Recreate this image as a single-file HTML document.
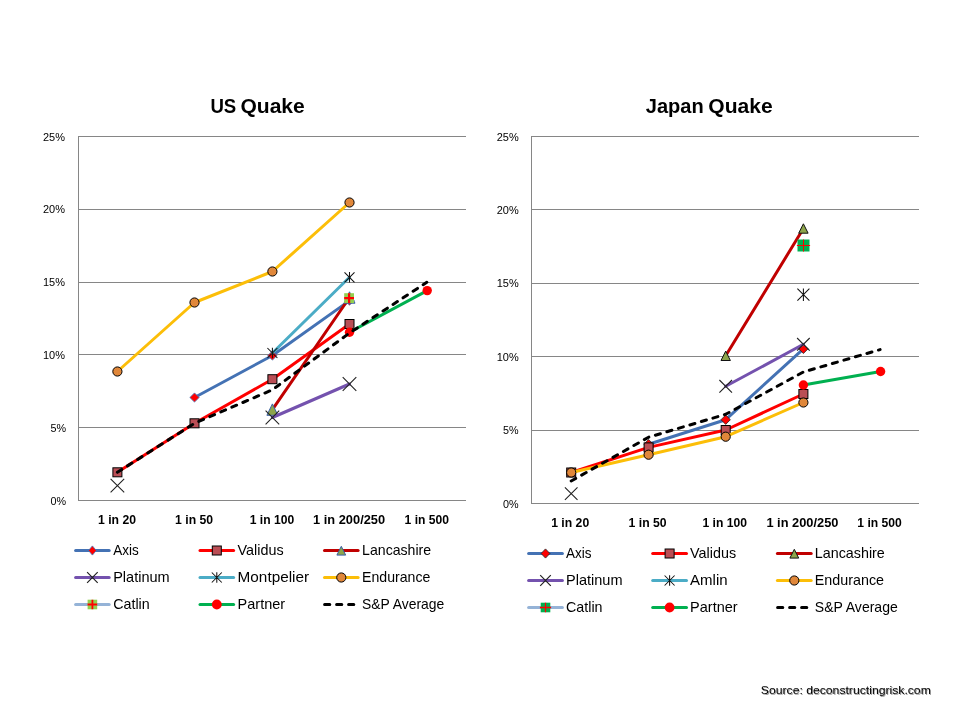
<!DOCTYPE html>
<html lang="en">
<head>
<meta charset="utf-8">
<title>US Quake / Japan Quake</title>
<style>
html,body{margin:0;padding:0;background:#fff;}
body{width:960px;height:720px;overflow:hidden;}
svg{display:block;font-family:"Liberation Sans", sans-serif;}
</style>
</head>
<body>
<svg width="960" height="720" viewBox="0 0 960 720">
<rect width="960" height="720" fill="#fff"/>
<rect x="78" y="136" width="388" height="1" fill="#868686"/>
<rect x="78" y="209" width="388" height="1" fill="#868686"/>
<rect x="78" y="282" width="388" height="1" fill="#868686"/>
<rect x="78" y="354" width="388" height="1" fill="#868686"/>
<rect x="78" y="427" width="388" height="1" fill="#868686"/>
<rect x="78" y="500" width="388" height="1" fill="#868686"/>
<rect x="78" y="136" width="1" height="365" fill="#868686"/>
<text y="112.5" font-size="21" font-weight="bold" fill="#000"><tspan x="210.4" textLength="31" lengthAdjust="spacingAndGlyphs">US </tspan><tspan x="240.4" textLength="64.4" lengthAdjust="spacingAndGlyphs">Quake</tspan></text>
<text x="43" y="141" font-size="11.5" font-weight="normal" text-anchor="start" fill="#000" textLength="22" lengthAdjust="spacingAndGlyphs">25%</text>
<text x="43" y="212.8" font-size="11.5" font-weight="normal" text-anchor="start" fill="#000" textLength="22" lengthAdjust="spacingAndGlyphs">20%</text>
<text x="43" y="285.7" font-size="11.5" font-weight="normal" text-anchor="start" fill="#000" textLength="22" lengthAdjust="spacingAndGlyphs">15%</text>
<text x="43" y="358.5" font-size="11.5" font-weight="normal" text-anchor="start" fill="#000" textLength="22" lengthAdjust="spacingAndGlyphs">10%</text>
<text x="50.6" y="431.7" font-size="11.5" font-weight="normal" text-anchor="start" fill="#000" textLength="15.6" lengthAdjust="spacingAndGlyphs">5%</text>
<text x="50.6" y="504.6" font-size="11.5" font-weight="normal" text-anchor="start" fill="#000" textLength="15.6" lengthAdjust="spacingAndGlyphs">0%</text>
<text x="98" y="524.3" font-size="12.6" font-weight="bold" text-anchor="start" fill="#000" textLength="38" lengthAdjust="spacingAndGlyphs">1 in 20</text>
<text x="175.1" y="524.3" font-size="12.6" font-weight="bold" text-anchor="start" fill="#000" textLength="38" lengthAdjust="spacingAndGlyphs">1 in 50</text>
<text x="249.75" y="524.3" font-size="12.6" font-weight="bold" text-anchor="start" fill="#000" textLength="44.5" lengthAdjust="spacingAndGlyphs">1 in 100</text>
<text x="313.1" y="524.3" font-size="12.6" font-weight="bold" text-anchor="start" fill="#000" textLength="72" lengthAdjust="spacingAndGlyphs">1 in 200/250</text>
<text x="404.55" y="524.3" font-size="12.6" font-weight="bold" text-anchor="start" fill="#000" textLength="44.5" lengthAdjust="spacingAndGlyphs">1 in 500</text>
<rect x="531" y="136" width="388" height="1" fill="#868686"/>
<rect x="531" y="209" width="388" height="1" fill="#868686"/>
<rect x="531" y="283" width="388" height="1" fill="#868686"/>
<rect x="531" y="356" width="388" height="1" fill="#868686"/>
<rect x="531" y="430" width="388" height="1" fill="#868686"/>
<rect x="531" y="503" width="388" height="1" fill="#868686"/>
<rect x="531" y="136" width="1" height="368" fill="#868686"/>
<text y="112.5" font-size="21" font-weight="bold" fill="#000"><tspan x="645.8" textLength="63.5" lengthAdjust="spacingAndGlyphs">Japan </tspan><tspan x="708.3" textLength="64.4" lengthAdjust="spacingAndGlyphs">Quake</tspan></text>
<text x="496.7" y="141" font-size="11.5" font-weight="normal" text-anchor="start" fill="#000" textLength="22" lengthAdjust="spacingAndGlyphs">25%</text>
<text x="496.7" y="213.6" font-size="11.5" font-weight="normal" text-anchor="start" fill="#000" textLength="22" lengthAdjust="spacingAndGlyphs">20%</text>
<text x="496.7" y="286.9" font-size="11.5" font-weight="normal" text-anchor="start" fill="#000" textLength="22" lengthAdjust="spacingAndGlyphs">15%</text>
<text x="496.7" y="360.6" font-size="11.5" font-weight="normal" text-anchor="start" fill="#000" textLength="22" lengthAdjust="spacingAndGlyphs">10%</text>
<text x="503.1" y="433.75" font-size="11.5" font-weight="normal" text-anchor="start" fill="#000" textLength="15.6" lengthAdjust="spacingAndGlyphs">5%</text>
<text x="503.1" y="507.6" font-size="11.5" font-weight="normal" text-anchor="start" fill="#000" textLength="15.6" lengthAdjust="spacingAndGlyphs">0%</text>
<text x="551.2" y="527.3" font-size="12.6" font-weight="bold" text-anchor="start" fill="#000" textLength="38" lengthAdjust="spacingAndGlyphs">1 in 20</text>
<text x="628.6" y="527.3" font-size="12.6" font-weight="bold" text-anchor="start" fill="#000" textLength="38" lengthAdjust="spacingAndGlyphs">1 in 50</text>
<text x="702.45" y="527.3" font-size="12.6" font-weight="bold" text-anchor="start" fill="#000" textLength="44.5" lengthAdjust="spacingAndGlyphs">1 in 100</text>
<text x="766.4" y="527.3" font-size="12.6" font-weight="bold" text-anchor="start" fill="#000" textLength="72" lengthAdjust="spacingAndGlyphs">1 in 200/250</text>
<text x="857.35" y="527.3" font-size="12.6" font-weight="bold" text-anchor="start" fill="#000" textLength="44.5" lengthAdjust="spacingAndGlyphs">1 in 500</text>
<path d="M194.5 397.5L272.4 355.5L349.5 300.6" fill="none" stroke="#4472B4" stroke-width="3" stroke-linejoin="round" stroke-linecap="round"/>
<path d="M194.5 392.9L199.1 397.5L194.5 402.1L189.9 397.5Z" fill="#FF0000" stroke="#4472B4" stroke-width="0.8"/>
<path d="M272.4 350.9L277 355.5L272.4 360.1L267.8 355.5Z" fill="#FF0000" stroke="#4472B4" stroke-width="0.8"/>
<path d="M349.5 296L354.1 300.6L349.5 305.2L344.9 300.6Z" fill="#FF0000" stroke="#4472B4" stroke-width="0.8"/>
<path d="M117.4 472.3L194.5 423.3L272.4 379.2L349.5 324" fill="none" stroke="#FF0000" stroke-width="3" stroke-linejoin="round" stroke-linecap="round"/>
<rect x="112.9" y="467.8" width="9" height="9" fill="#BA4E55" stroke="#000" stroke-width="1"/>
<rect x="190" y="418.8" width="9" height="9" fill="#BA4E55" stroke="#000" stroke-width="1"/>
<rect x="267.9" y="374.7" width="9" height="9" fill="#BA4E55" stroke="#000" stroke-width="1"/>
<rect x="345" y="319.5" width="9" height="9" fill="#BA4E55" stroke="#000" stroke-width="1"/>
<path d="M272.4 409.6L349.5 297.5" fill="none" stroke="#C00000" stroke-width="3" stroke-linejoin="round" stroke-linecap="round"/>
<path d="M272.4 403.9L277.9 415.3L266.9 415.3Z" fill="#8DA54B" stroke="#3A5FA8" stroke-width="1" stroke-linejoin="miter"/>
<path d="M349.5 291.8L355 303.2L344 303.2Z" fill="#8DA54B" stroke="#3A5FA8" stroke-width="1" stroke-linejoin="miter"/>
<path d="M272.4 417.5L349.5 384" fill="none" stroke="#7452AE" stroke-width="3" stroke-linejoin="round" stroke-linecap="round"/>
<path d="M110.6 478.8L124.2 492.4M124.2 478.8L110.6 492.4" fill="none" stroke="#222" stroke-width="1.1"/>
<path d="M265.6 410.7L279.2 424.3M279.2 410.7L265.6 424.3" fill="none" stroke="#222" stroke-width="1.1"/>
<path d="M342.7 377.2L356.3 390.8M356.3 377.2L342.7 390.8" fill="none" stroke="#222" stroke-width="1.1"/>
<path d="M272.4 353L349.5 277.3" fill="none" stroke="#4BACC6" stroke-width="3" stroke-linejoin="round" stroke-linecap="round"/>
<path d="M267.4 348L277.4 358M277.4 348L267.4 358M272.4 347.7L272.4 358.3" fill="none" stroke="#111" stroke-width="1.05"/>
<path d="M344.5 272.3L354.5 282.3M354.5 272.3L344.5 282.3M349.5 272L349.5 282.6" fill="none" stroke="#111" stroke-width="1.05"/>
<path d="M117.4 371.5L194.5 302.5L272.4 271.5L349.5 202.5" fill="none" stroke="#FCBE08" stroke-width="3" stroke-linejoin="round" stroke-linecap="round"/>
<circle cx="117.4" cy="371.5" r="4.6" fill="#E0873A" stroke="#000" stroke-width="1"/>
<circle cx="194.5" cy="302.5" r="4.6" fill="#E0873A" stroke="#000" stroke-width="1"/>
<circle cx="272.4" cy="271.5" r="4.6" fill="#E0873A" stroke="#000" stroke-width="1"/>
<circle cx="349.5" cy="202.5" r="4.6" fill="#E0873A" stroke="#000" stroke-width="1"/>
<rect x="344.2" y="293.2" width="9.8" height="9.8" fill="#92D050"/><path d="M344.2 298.1L354 298.1M349.1 293.2L349.1 303" fill="none" stroke="#FF0000" stroke-width="2.2"/>
<path d="M349.5 332.3L427.2 290.6" fill="none" stroke="#00B050" stroke-width="3" stroke-linejoin="round" stroke-linecap="round"/>
<circle cx="349.5" cy="332.3" r="4.7" fill="#FF0000"/>
<circle cx="427.2" cy="290.6" r="4.7" fill="#FF0000"/>
<path d="M117.4 472.3L194.5 423.3L272.4 389.8L349.5 333L426.8 282.3" fill="none" stroke="#000000" stroke-width="3" stroke-linejoin="round" stroke-linecap="round" stroke-dasharray="5.2 6.8"/>
<path d="M648.6 444.2L725.7 419.7L803.4 348.8" fill="none" stroke="#4472B4" stroke-width="3" stroke-linejoin="round" stroke-linecap="round"/>
<path d="M648.6 439.5L653.3 444.2L648.6 448.9L643.9 444.2Z" fill="#FF0000" stroke="#222" stroke-width="0.8"/>
<path d="M725.7 415L730.4 419.7L725.7 424.4L721 419.7Z" fill="#FF0000" stroke="#222" stroke-width="0.8"/>
<path d="M803.4 344.1L808.1 348.8L803.4 353.5L798.7 348.8Z" fill="#FF0000" stroke="#222" stroke-width="0.8"/>
<path d="M571.2 472.5L648.6 447.4L725.7 430L803.4 394" fill="none" stroke="#FF0000" stroke-width="3" stroke-linejoin="round" stroke-linecap="round"/>
<rect x="566.7" y="468" width="9" height="9" fill="#BA4E55" stroke="#000" stroke-width="1"/>
<rect x="644.1" y="442.9" width="9" height="9" fill="#BA4E55" stroke="#000" stroke-width="1"/>
<rect x="721.2" y="425.5" width="9" height="9" fill="#BA4E55" stroke="#000" stroke-width="1"/>
<rect x="798.9" y="389.5" width="9" height="9" fill="#BA4E55" stroke="#000" stroke-width="1"/>
<path d="M725.7 355.8L803.4 228.5" fill="none" stroke="#C00000" stroke-width="3" stroke-linejoin="round" stroke-linecap="round"/>
<path d="M725.7 351.1L730.4 360.5L721 360.5Z" fill="#8DA54B" stroke="#111" stroke-width="1" stroke-linejoin="miter"/>
<path d="M803.4 223.8L808.1 233.2L798.7 233.2Z" fill="#8DA54B" stroke="#111" stroke-width="1" stroke-linejoin="miter"/>
<path d="M725.7 386.3L803.4 344.3" fill="none" stroke="#7452AE" stroke-width="3" stroke-linejoin="round" stroke-linecap="round"/>
<path d="M564.9 487.3L577.5 499.9M577.5 487.3L564.9 499.9" fill="none" stroke="#222" stroke-width="1.1"/>
<path d="M719.4 380L732 392.6M732 380L719.4 392.6" fill="none" stroke="#222" stroke-width="1.1"/>
<path d="M797.1 338L809.7 350.6M809.7 338L797.1 350.6" fill="none" stroke="#222" stroke-width="1.1"/>
<path d="M797.4 288.7L809.4 300.7M809.4 288.7L797.4 300.7M803.4 288.4L803.4 301" fill="none" stroke="#111" stroke-width="1.05"/>
<path d="M571.2 472.5L648.6 454.7L725.7 436.7L803.4 402.5" fill="none" stroke="#FCBE08" stroke-width="3" stroke-linejoin="round" stroke-linecap="round"/>
<circle cx="571.2" cy="472.5" r="4.6" fill="#E0873A" stroke="#000" stroke-width="1"/>
<circle cx="648.6" cy="454.7" r="4.6" fill="#E0873A" stroke="#000" stroke-width="1"/>
<circle cx="725.7" cy="436.7" r="4.6" fill="#E0873A" stroke="#000" stroke-width="1"/>
<circle cx="803.4" cy="402.5" r="4.6" fill="#E0873A" stroke="#000" stroke-width="1"/>
<rect x="797.5" y="239.5" width="12" height="12" fill="#00B050"/><path d="M796.9 245.5L810.1 245.5M803.5 239.5L803.5 251.5" fill="none" stroke="#FF0000" stroke-width="1"/>
<path d="M803.4 385L880.6 371.5" fill="none" stroke="#00B050" stroke-width="3" stroke-linejoin="round" stroke-linecap="round"/>
<circle cx="803.4" cy="385" r="4.7" fill="#FF0000"/>
<circle cx="880.6" cy="371.5" r="4.7" fill="#FF0000"/>
<path d="M571.2 481L648.6 437.2L725.7 414.3L803.4 372L880.1 349.6" fill="none" stroke="#000000" stroke-width="3" stroke-linejoin="round" stroke-linecap="round" stroke-dasharray="5.2 6.8"/>
<path d="M75.6 550.5L109.2 550.5" fill="none" stroke="#4472B4" stroke-width="3" stroke-linejoin="round" stroke-linecap="round"/>
<path d="M92.4 545.9L96.3 550.5L92.4 555.1L88.5 550.5Z" fill="#FF0000" stroke="#4472B4" stroke-width="0.8"/>
<text x="113.2" y="554.7" font-size="14.5" font-weight="normal" text-anchor="start" fill="#000" textLength="25.5" lengthAdjust="spacingAndGlyphs">Axis</text>
<path d="M200 550.5L233.6 550.5" fill="none" stroke="#FF0000" stroke-width="3" stroke-linejoin="round" stroke-linecap="round"/>
<rect x="212.3" y="546" width="9" height="9" fill="#BA4E55" stroke="#000" stroke-width="1"/>
<text x="237.6" y="554.7" font-size="14.5" font-weight="normal" text-anchor="start" fill="#000" textLength="46" lengthAdjust="spacingAndGlyphs">Validus</text>
<path d="M324.5 550.5L358.1 550.5" fill="none" stroke="#C00000" stroke-width="3" stroke-linejoin="round" stroke-linecap="round"/>
<path d="M341.3 546.3L345.7 555.1L336.9 555.1Z" fill="#8DA54B" stroke="#3A5FA8" stroke-width="1" stroke-linejoin="miter"/>
<text x="362.1" y="554.7" font-size="14.5" font-weight="normal" text-anchor="start" fill="#000" textLength="69" lengthAdjust="spacingAndGlyphs">Lancashire</text>
<path d="M75.6 577.5L109.2 577.5" fill="none" stroke="#7452AE" stroke-width="3" stroke-linejoin="round" stroke-linecap="round"/>
<path d="M87.1 572.2L97.7 582.8M97.7 572.2L87.1 582.8" fill="none" stroke="#222" stroke-width="1.2"/>
<text x="113.2" y="581.7" font-size="14.5" font-weight="normal" text-anchor="start" fill="#000" textLength="56.5" lengthAdjust="spacingAndGlyphs">Platinum</text>
<path d="M200 577.5L233.6 577.5" fill="none" stroke="#4BACC6" stroke-width="3" stroke-linejoin="round" stroke-linecap="round"/>
<path d="M211.8 572.5L221.8 582.5M221.8 572.5L211.8 582.5M216.8 572.2L216.8 582.8" fill="none" stroke="#111" stroke-width="1.05"/>
<text x="237.6" y="581.7" font-size="14.5" font-weight="normal" text-anchor="start" fill="#000" textLength="71.5" lengthAdjust="spacingAndGlyphs">Montpelier</text>
<path d="M324.5 577.5L358.1 577.5" fill="none" stroke="#FCBE08" stroke-width="3" stroke-linejoin="round" stroke-linecap="round"/>
<circle cx="341.3" cy="577.5" r="4.6" fill="#E0873A" stroke="#000" stroke-width="1"/>
<text x="362.1" y="581.7" font-size="14.5" font-weight="normal" text-anchor="start" fill="#000" textLength="68.2" lengthAdjust="spacingAndGlyphs">Endurance</text>
<path d="M75.6 604.5L109.2 604.5" fill="none" stroke="#95B3D7" stroke-width="3" stroke-linejoin="round" stroke-linecap="round"/>
<rect x="87.6" y="599.7" width="9.6" height="9.6" fill="#92D050"/><path d="M87.6 604.5L97.2 604.5M92.4 599.7L92.4 609.3" fill="none" stroke="#FF0000" stroke-width="1.8"/>
<text x="113.2" y="608.7" font-size="14.5" font-weight="normal" text-anchor="start" fill="#000" textLength="36.5" lengthAdjust="spacingAndGlyphs">Catlin</text>
<path d="M200 604.5L233.6 604.5" fill="none" stroke="#00B050" stroke-width="3" stroke-linejoin="round" stroke-linecap="round"/>
<circle cx="216.8" cy="604.5" r="4.9" fill="#FF0000"/>
<text x="237.6" y="608.7" font-size="14.5" font-weight="normal" text-anchor="start" fill="#000" textLength="47.5" lengthAdjust="spacingAndGlyphs">Partner</text>
<path d="M324.6 604.5L359.6 604.5" fill="none" stroke="#000000" stroke-width="3" stroke-linejoin="round" stroke-linecap="round" stroke-dasharray="5.2 6.8"/>
<text x="362.1" y="608.7" font-size="14.5" font-weight="normal" text-anchor="start" fill="#000" textLength="82.1" lengthAdjust="spacingAndGlyphs">S&amp;P Average</text>
<path d="M528.6 553.5L562.4 553.5" fill="none" stroke="#4472B4" stroke-width="3" stroke-linejoin="round" stroke-linecap="round"/>
<path d="M545.5 548.9L549.9 553.5L545.5 558.1L541.1 553.5Z" fill="#FF0000" stroke="#222" stroke-width="0.8"/>
<text x="566" y="557.7" font-size="14.5" font-weight="normal" text-anchor="start" fill="#000" textLength="25.5" lengthAdjust="spacingAndGlyphs">Axis</text>
<path d="M652.7 553.5L686.5 553.5" fill="none" stroke="#FF0000" stroke-width="3" stroke-linejoin="round" stroke-linecap="round"/>
<rect x="665.1" y="549" width="9" height="9" fill="#BA4E55" stroke="#000" stroke-width="1"/>
<text x="690.1" y="557.7" font-size="14.5" font-weight="normal" text-anchor="start" fill="#000" textLength="46" lengthAdjust="spacingAndGlyphs">Validus</text>
<path d="M777.4 553.5L811.2 553.5" fill="none" stroke="#C00000" stroke-width="3" stroke-linejoin="round" stroke-linecap="round"/>
<path d="M794.3 549.3L798.7 558.1L789.9 558.1Z" fill="#8DA54B" stroke="#111" stroke-width="1" stroke-linejoin="miter"/>
<text x="814.8" y="557.7" font-size="14.5" font-weight="normal" text-anchor="start" fill="#000" textLength="70" lengthAdjust="spacingAndGlyphs">Lancashire</text>
<path d="M528.6 580.5L562.4 580.5" fill="none" stroke="#7452AE" stroke-width="3" stroke-linejoin="round" stroke-linecap="round"/>
<path d="M540.2 575.2L550.8 585.8M550.8 575.2L540.2 585.8" fill="none" stroke="#222" stroke-width="1.2"/>
<text x="566" y="584.7" font-size="14.5" font-weight="normal" text-anchor="start" fill="#000" textLength="56.5" lengthAdjust="spacingAndGlyphs">Platinum</text>
<path d="M652.7 580.5L686.5 580.5" fill="none" stroke="#4BACC6" stroke-width="3" stroke-linejoin="round" stroke-linecap="round"/>
<path d="M664.6 575.5L674.6 585.5M674.6 575.5L664.6 585.5M669.6 575.2L669.6 585.8" fill="none" stroke="#111" stroke-width="1.05"/>
<text x="690.1" y="584.7" font-size="14.5" font-weight="normal" text-anchor="start" fill="#000" textLength="37.5" lengthAdjust="spacingAndGlyphs">Amlin</text>
<path d="M777.4 580.5L811.2 580.5" fill="none" stroke="#FCBE08" stroke-width="3" stroke-linejoin="round" stroke-linecap="round"/>
<circle cx="794.3" cy="580.5" r="4.6" fill="#E0873A" stroke="#000" stroke-width="1"/>
<text x="814.8" y="584.7" font-size="14.5" font-weight="normal" text-anchor="start" fill="#000" textLength="69.2" lengthAdjust="spacingAndGlyphs">Endurance</text>
<path d="M528.6 607.5L562.4 607.5" fill="none" stroke="#95B3D7" stroke-width="3" stroke-linejoin="round" stroke-linecap="round"/>
<rect x="540.7" y="602.7" width="9.6" height="9.6" fill="#00B050"/><path d="M539.9 607.5L551.1 607.5M545.5 602.7L545.5 612.3" fill="none" stroke="#FF0000" stroke-width="1.3"/>
<text x="566" y="611.7" font-size="14.5" font-weight="normal" text-anchor="start" fill="#000" textLength="36.5" lengthAdjust="spacingAndGlyphs">Catlin</text>
<path d="M652.7 607.5L686.5 607.5" fill="none" stroke="#00B050" stroke-width="3" stroke-linejoin="round" stroke-linecap="round"/>
<circle cx="669.6" cy="607.5" r="4.9" fill="#FF0000"/>
<text x="690.1" y="611.7" font-size="14.5" font-weight="normal" text-anchor="start" fill="#000" textLength="47.5" lengthAdjust="spacingAndGlyphs">Partner</text>
<path d="M777.6 607.5L812.7 607.5" fill="none" stroke="#000000" stroke-width="3" stroke-linejoin="round" stroke-linecap="round" stroke-dasharray="5.2 6.8"/>
<text x="814.8" y="611.7" font-size="14.5" font-weight="normal" text-anchor="start" fill="#000" textLength="83" lengthAdjust="spacingAndGlyphs">S&amp;P Average</text>
<text x="761.7" y="694.7" font-size="11.3" font-weight="normal" text-anchor="start" fill="#9a9a9a" textLength="170" lengthAdjust="spacingAndGlyphs">Source: deconstructingrisk.com</text>
<text x="760.8" y="693.9" font-size="11.3" font-weight="normal" text-anchor="start" fill="#000" textLength="170" lengthAdjust="spacingAndGlyphs">Source: deconstructingrisk.com</text>
</svg>
</body>
</html>
